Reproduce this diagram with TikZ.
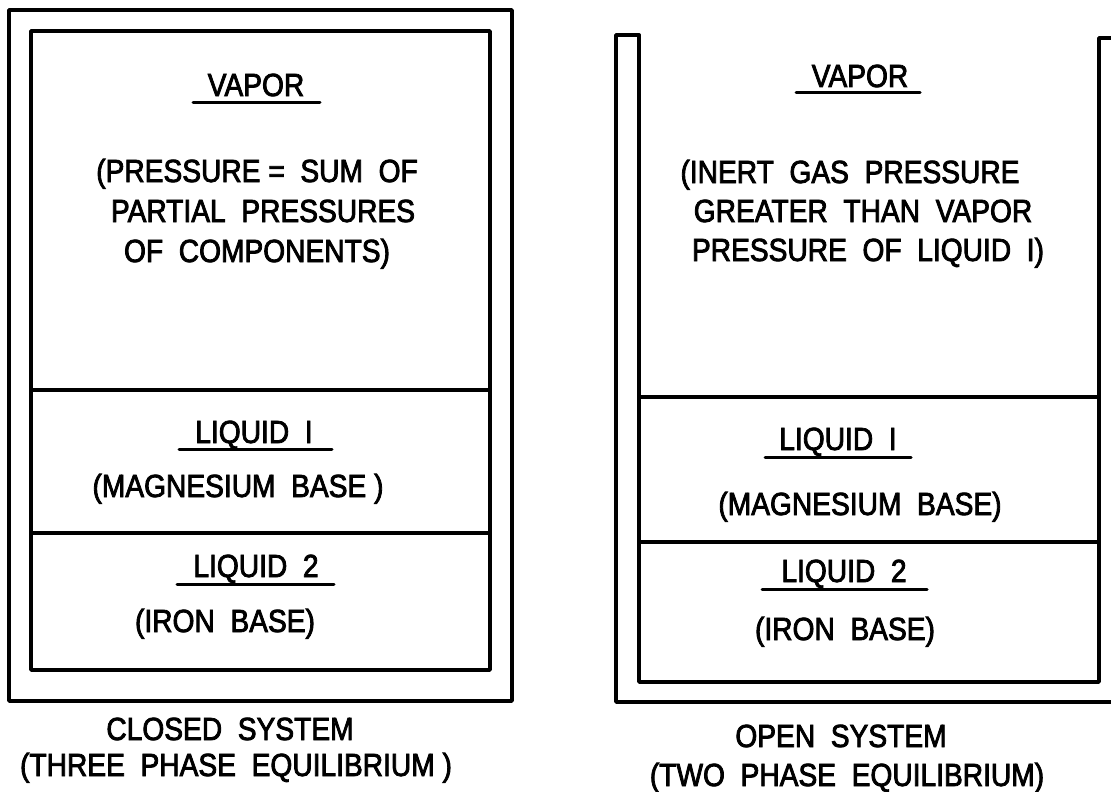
\documentclass[tikz,border=0pt]{standalone}
\usepackage{fontspec}
\setmainfont{Liberation Sans}[FakeStretch=0.88,FakeBold=2.5]
\begin{document}
\begin{tikzpicture}[x=1pt,y=-1pt,
  wall/.style={line width=3.5pt,line join=round,line cap=round},
  uline/.style={line width=3pt,line cap=round},
  lbl/.style={anchor=base,inner sep=0pt,font=\fontsize{32}{38}\selectfont}]
\useasboundingbox (0,0) rectangle (1111,792);
% ---------- closed system ----------
\draw[wall] (9,10) rectangle (512,701);
\draw[wall] (31,31) rectangle (490,670);
\draw[wall] (31,390) -- (490,390);
\draw[wall] (31,533) -- (490,533);
\node[lbl] (lvap) at (256,96) {VAPOR};
\draw[uline] (193,102) -- (320,102);
\node[lbl] (lv1) at (257,182) {(PRESSURE = \ SUM \ OF};
\node[lbl] (lv2) at (263,222) {PARTIAL \ PRESSURES};
\node[lbl] (lv3) at (257,262) {OF \ COMPONENTS)};
\node[lbl] (lliq1) at (254,443) {LIQUID \ I};
\draw[uline] (179,449) -- (332,449);
\node[lbl] (lmg) at (238,497) {(MAGNESIUM \ BASE )};
\node[lbl] (lliq2) at (256,577) {LIQUID \ 2};
\draw[uline] (177,584) -- (334,584);
\node[lbl] (lfe) at (225,632) {(IRON \ BASE)};
\node[lbl] (lcap1) at (230,740) {CLOSED \ SYSTEM};
\node[lbl] (lcap2) at (236,776) {(THREE \ PHASE \ EQUILIBRIUM )};
% ---------- open system ----------
\draw[wall] (639,35) -- (616,35) -- (616,702) -- (1111,702);
\draw[wall] (639,35) -- (639,682) -- (1099,682) -- (1099,38) -- (1111,38);
\draw[wall] (639,397) -- (1099,397);
\draw[wall] (639,542) -- (1099,542);
\node[lbl] (rvap) at (860,87) {VAPOR};
\draw[uline] (796,92) -- (920,92);
\node[lbl] (rv1) at (850,183) {(INERT \ GAS \ PRESSURE};
\node[lbl] (rv2) at (863,222) {GREATER \ THAN \ VAPOR};
\node[lbl] (rv3) at (868,261) {PRESSURE \ OF \ LIQUID \ I)};
\node[lbl] (rliq1) at (838,450) {LIQUID \ I};
\draw[uline] (765,457) -- (911,457);
\node[lbl] (rmg) at (860,515) {(MAGNESIUM \ BASE)};
\node[lbl] (rliq2) at (844,582) {LIQUID \ 2};
\draw[uline] (762,589) -- (927,589);
\node[lbl] (rfe) at (845,640) {(IRON \ BASE)};
\node[lbl] (rcap1) at (841,747) {OPEN \ SYSTEM};
\node[lbl] (rcap2) at (847,786) {(TWO \ PHASE \ EQUILIBRIUM)};
\end{tikzpicture}
\end{document}
